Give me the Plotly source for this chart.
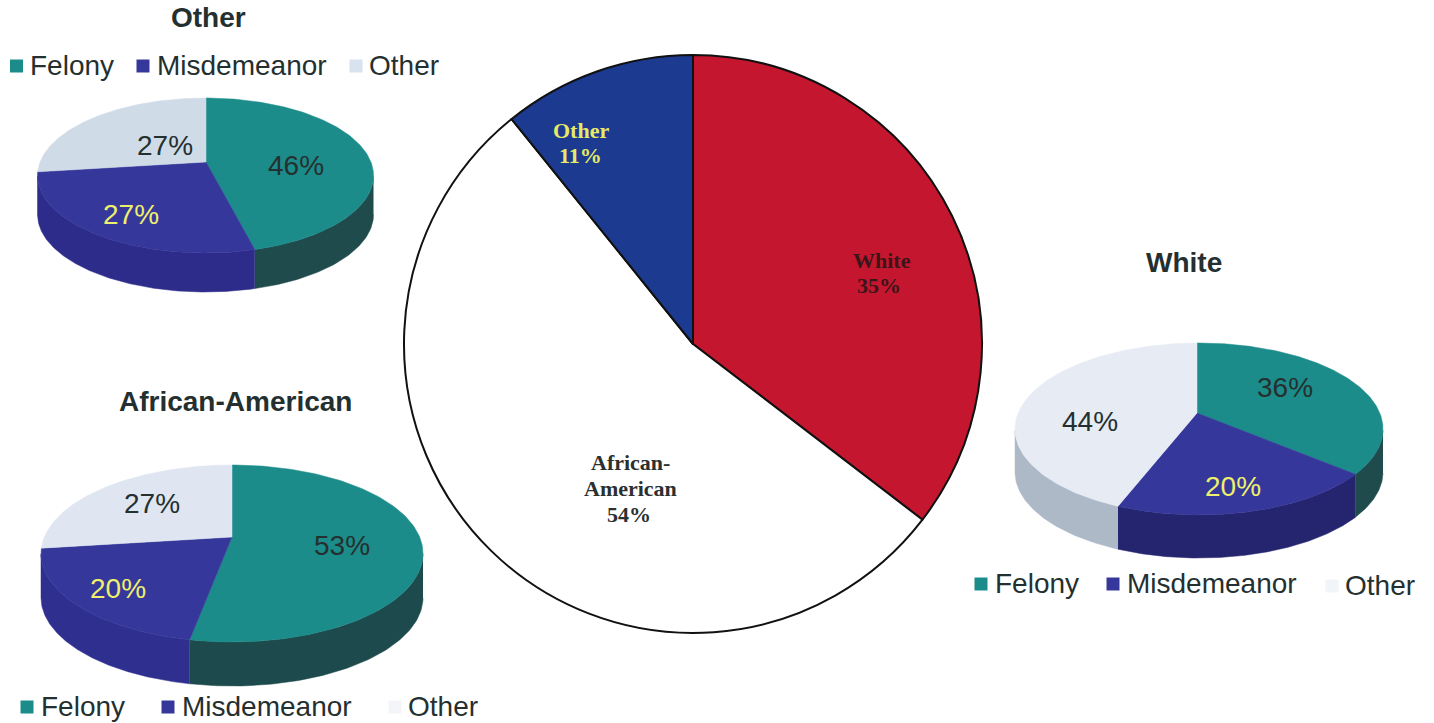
import numpy as np
import plotly.graph_objects as go

# ---- data ----
race_labels = ["White", "African-American", "Other"]
race_values = [35, 54, 11]            # printed percentages
race_slice_shares = [35.4, 53.8, 10.8]  # slice sizes as measured on the drawing
offense_labels = ["Felony", "Misdemeanor", "Other"]
other_values = [46, 27, 27]
african_american_values = [53, 20, 27]
white_values = [36, 20, 44]
pie_titles = ["Other", "African-American", "White"]

# ---- styles and layout ----
W, H = 1434, 723
SANS = "Liberation Sans, Arial, sans-serif"
SERIF = "Liberation Serif, Times New Roman, serif"
INK = "#24302f"
TEAL, BLUE = "#1c8c8a", "#35379a"
YELLOW = "#eef06e"

PIES = [
    dict(values=other_values, cx=205.5, cy=175.5, rx=168, ry=77.5, ax=206, ay=162, depth=39,
         tops=[TEAL, BLUE, "#d0dbe8"], walls=["#1f4b4d", "#2d2c8a", "#b4c0ce"],
         keys=[TEAL, "#35389a", "#d8e3ef"],
         title=(208, 17),
         labels=[(296, 165, INK), (131, 214, YELLOW), (165, 145, INK)],
         legend=[(16.5, 66, 28, 65), (143, 66, 155, 65), (356, 66, 367, 65)]),
    dict(values=african_american_values, cx=232, cy=553.5, rx=191, ry=88.5, ax=232, ay=537, depth=44,
         tops=[TEAL, BLUE, "#dfe6f1"], walls=["#1d4a4c", "#2f2f90", "#b4c0ce"],
         keys=[TEAL, "#35389a", "#f3f5f9"],
         title=(235, 401),
         labels=[(342, 545, INK), (118, 588, YELLOW), (152, 503, INK)],
         legend=[(27, 707, 39, 706), (168, 707, 180, 706), (395, 707, 406, 706)]),
    dict(values=white_values, cx=1199, cy=429, rx=184, ry=86, ax=1197, ay=413, depth=43,
         tops=[TEAL, BLUE, "#e6ebf4"], walls=["#1f4b4d", "#24246f", "#aeb9c8"],
         keys=[TEAL, "#35389a", "#f1f4f8"],
         title=(1184, 262),
         labels=[(1285, 387, INK), (1233, 486, YELLOW), (1090, 421, INK)],
         legend=[(981, 584, 993, 583), (1113, 584, 1125, 583), (1332, 586, 1343, 585)]),
]


def edge(p, t):
    """Point on the tilted rim hit by the ray leaving the apex at pie angle t."""
    px, py = (p["ax"] - p["cx"]) / p["rx"], (p["ay"] - p["cy"]) / p["ry"]
    dx, dy = np.sin(t), -np.cos(t)
    b = px * dx + py * dy
    s = -b + np.sqrt(b * b - (px * px + py * py - 1))
    return px + s * dx, py + s * dy


fig = go.Figure()

# Central flat pie
fig.add_trace(go.Pie(
    labels=race_labels, values=race_slice_shares, sort=False, direction="clockwise", rotation=0,
    marker=dict(colors=["#c5162f", "#ffffff", "#1c3b90"], line=dict(color="#111111", width=2)),
    textinfo="none", hoverinfo="label", showlegend=False,
    domain=dict(x=[404 / W, 982 / W], y=[(H - 633) / H, (H - 55) / H]),
))

annotations = []


def note(x, y, text, font, size, color, anchor="center", bold=False):
    annotations.append(dict(
        x=x, y=y, xref="x", yref="y", text=f"<b>{text}</b>" if bold else text,
        showarrow=False, xanchor=anchor, yanchor="middle",
        font=dict(family=font, size=size, color=color),
    ))


for p, title in zip(PIES, pie_titles):
    fractions = np.cumsum([0] + p["values"]) / sum(p["values"])
    angles = 2 * np.pi * fractions
    # side walls first, then the top faces
    for i in range(3):
        t = np.linspace(angles[i], angles[i + 1], 160)
        ex, ey = edge(p, t)
        front = ey >= 0
        if front.sum() >= 2:
            xs = p["cx"] + p["rx"] * ex[front]
            ys = p["cy"] + p["ry"] * ey[front]
            fig.add_trace(go.Scatter(
                x=np.r_[xs, xs[::-1]], y=np.r_[ys, ys[::-1] + p["depth"]],
                mode="lines", fill="toself", fillcolor=p["walls"][i],
                line=dict(color=p["walls"][i], width=0.5), hoverinfo="skip", showlegend=False,
            ))
    for i in range(3):
        t = np.linspace(angles[i], angles[i + 1], 160)
        ex, ey = edge(p, t)
        fig.add_trace(go.Scatter(
            x=np.r_[p["ax"], p["cx"] + p["rx"] * ex, p["ax"]],
            y=np.r_[p["ay"], p["cy"] + p["ry"] * ey, p["ay"]],
            mode="lines", fill="toself", fillcolor=p["tops"][i],
            line=dict(color=p["tops"][i], width=0.5),
            name=offense_labels[i], hoverinfo="name", showlegend=False,
        ))
    for v, (x, y, c) in zip(p["values"], p["labels"]):
        note(x, y, f"{v}%", SANS, 28, c)
    note(*p["title"], title, SANS, 28, INK, bold=True)
    # legend keys and labels
    for name, color, (sx, sy, tx, ty) in zip(offense_labels, p["keys"], p["legend"]):
        fig.add_trace(go.Scatter(
            x=[sx], y=[sy], mode="markers",
            marker=dict(symbol="square", size=13, color=color),
            hoverinfo="skip", showlegend=False,
        ))
        note(tx, ty, name, SANS, 28, INK, anchor="left")

# Labels of the central pie
note(882, 260, "White", SERIF, 22, "#3b1518", bold=True)
note(879, 285, f"{race_values[0]}%", SERIF, 22, "#3b1518", bold=True)
note(630, 462, "African-", SERIF, 22, "#2b3030", bold=True)
note(630, 488, "American", SERIF, 22, "#2b3030", bold=True)
note(629, 514, f"{race_values[1]}%", SERIF, 22, "#2b3030", bold=True)
note(581, 130, "Other", SERIF, 22, "#e6ea66", bold=True)
note(580, 155, f"{race_values[2]}%", SERIF, 22, "#e6ea66", bold=True)

axis = dict(visible=False, fixedrange=True)
fig.update_layout(
    width=W, height=H, margin=dict(l=0, r=0, t=0, b=0),
    paper_bgcolor="#ffffff", plot_bgcolor="rgba(0,0,0,0)",
    xaxis=dict(range=[0, W], **axis), yaxis=dict(range=[H, 0], **axis),
    annotations=annotations, showlegend=False,
)

fig.write_html(
    "out.html", config=dict(displayModeBar=False),
    post_script="document.body.style.margin='0';document.body.style.overflow='hidden';",
)
